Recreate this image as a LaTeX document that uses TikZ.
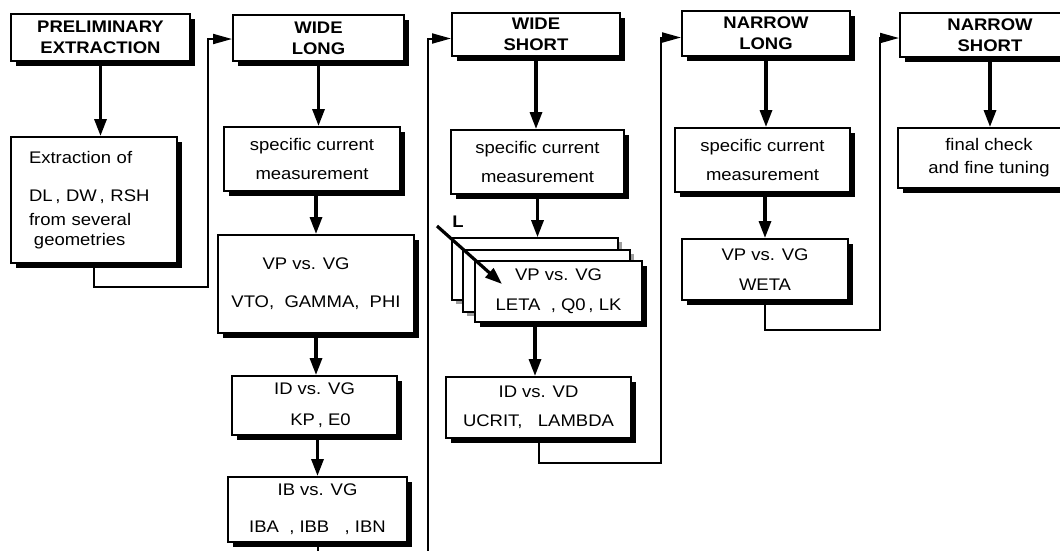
\documentclass[tikz,border=0pt]{standalone}
\usepackage{fontspec}
\setmainfont{Liberation Sans}[FakeStretch=1.1]
\usetikzlibrary{arrows.meta,positioning,shadows}

\begin{document}
\begin{tikzpicture}[
  x=1pt, y=-1pt,
  >={Triangle[length=17pt,width=12pt]},
  plain/.style={draw, line width=2pt, fill=white, align=center, inner sep=0pt,
    font=\fontsize{16.8}{20}\selectfont},
  box/.style={plain, drop shadow={shadow xshift=5pt, shadow yshift=-5pt, fill=black, opacity=1}},
  head/.style={box, font=\fontsize{16.8}{21}\selectfont\bfseries},
  card/.style={plain, line width=1.6pt, drop shadow={shadow xshift=4pt, shadow yshift=-4pt, fill=gray!75, opacity=1}},
  down/.style={->, line width=3.2pt},
  link/.style={-{Triangle[length=19pt,width=10pt]}, line width=2pt},
]
\useasboundingbox (0,0) rectangle (1060,550);
\clip (0,0) rectangle (1060,550);

% preliminary step
\node[head, minimum width=179pt, minimum height=47pt] (prelim) at (100.5,37.5) {PRELIMINARY\\EXTRACTION};
\node[box, align=left, text width=130pt, minimum width=166pt, minimum height=126pt] (extr) at (94,200)
  {Extraction of\\[18pt]DL\,,\ DW\,,\ RSH\\[4pt]from several\\\hspace*{5pt}geometries};

% wide long
\node[head, minimum width=171pt, minimum height=46pt] (wl) at (318.5,38) {WIDE\\LONG};
\node[box, minimum width=176pt, minimum height=64pt] (wlspec) at (312,159) {specific current\\[9pt]measurement};
\node[box, minimum width=196pt, minimum height=98pt] (wlvp) at (316,284) {VP vs. VG\hspace*{20pt}\\[18pt]VTO,\ \ GAMMA,\ \ PHI};
\node[box, minimum width=165pt, minimum height=59pt] (wlid) at (314.5,405.5) {ID vs. VG\\[11pt]\hspace*{12pt}KP\,,\ E0};
\node[box, minimum width=179pt, minimum height=65pt] (wlib) at (317.5,509.5) {IB vs. VG\\[17pt]IBA\ \ ,\ IBB\ \ \ ,\ IBN};

% wide short
\node[head, minimum width=168pt, minimum height=43pt] (ws) at (536,34.5) {WIDE\\SHORT};
\node[box, minimum width=173pt, minimum height=64pt] (wsspec) at (537.5,162) {specific current\\[9pt]measurement};
\node[card, minimum width=166pt, minimum height=62pt] (back) at (535,269) {};
\node[card, minimum width=167pt, minimum height=62pt] (mid) at (546.5,281) {};
\node[box, minimum width=167pt, minimum height=61pt] (front) at (558.5,291.5) {VP vs. VG\\[10pt]LETA\ \ ,\ Q0\,,\ LK};
\node[box, minimum width=185pt, minimum height=61pt] (wsid) at (538.5,407.5) {ID vs. VD\\[9pt]UCRIT,\ \ \ LAMBDA};
\node[font=\fontsize{16.8}{20}\selectfont\bfseries] (lbl) at (458,222) {L};
\coordinate (lfrom) at (437,226);
\coordinate (lto) at (502,284);

% narrow long
\node[head, minimum width=168pt, minimum height=45pt] (nl) at (766,33.5) {NARROW\\LONG};
\node[box, minimum width=175pt, minimum height=64pt] (nlspec) at (762.5,160) {specific current\\[9pt]measurement};
\node[box, minimum width=166pt, minimum height=61pt] (nlvp) at (765,269.5) {VP vs. VG\\[10pt]WETA};

% narrow short
\node[head, minimum width=180pt, minimum height=44pt] (ns) at (990,35) {NARROW\\SHORT};
\node[box, minimum width=182pt, minimum height=60pt] (nsfin) at (989,158) {final check\\[3pt]and fine tuning};

\coordinate (j1) at (208,287);
\coordinate (j2) at (428,570);
\coordinate (j3) at (661,463);
\coordinate (j4) at (880,330);

\draw[down] (prelim.south) -- (prelim.south |- extr.north);
\draw[down] (wl.south) -- (wl.south |- wlspec.north);
\draw[down] (wlvp.north |- wlspec.south) -- (wlvp.north);
\draw[down] (wlvp.south) -- (wlvp.south |- wlid.north);
\draw[down] (wlib.north |- wlid.south) -- (wlib.north);
\draw[down] (ws.south) -- (ws.south |- wsspec.north);
\draw[down] (wsspec.south) -- (wsspec.south |- back.north);
\draw[down] (back.south |- front.south) -- (back.south |- wsid.north);
\draw[down] (lfrom) -- (lto);
\draw[down] (nl.south) -- (nl.south |- nlspec.north);
\draw[down] (nlvp.north |- nlspec.south) -- (nlvp.north);
\draw[down] (ns.south) -- (ns.south |- nsfin.north);

\draw[link] (extr.south) |- (j1) |- ([yshift=-1pt]wl.west);
\draw[line width=2pt] (wlib.south) |- (j2);
\draw[link] (j2) |- ([yshift=-4pt]ws.west);
\draw[link] (wsid.south) |- (j3) |- ([yshift=-4pt]nl.west);
\draw[link] (nlvp.south) |- (j4) |- ([yshift=-3pt]ns.west);
\end{tikzpicture}
\end{document}
